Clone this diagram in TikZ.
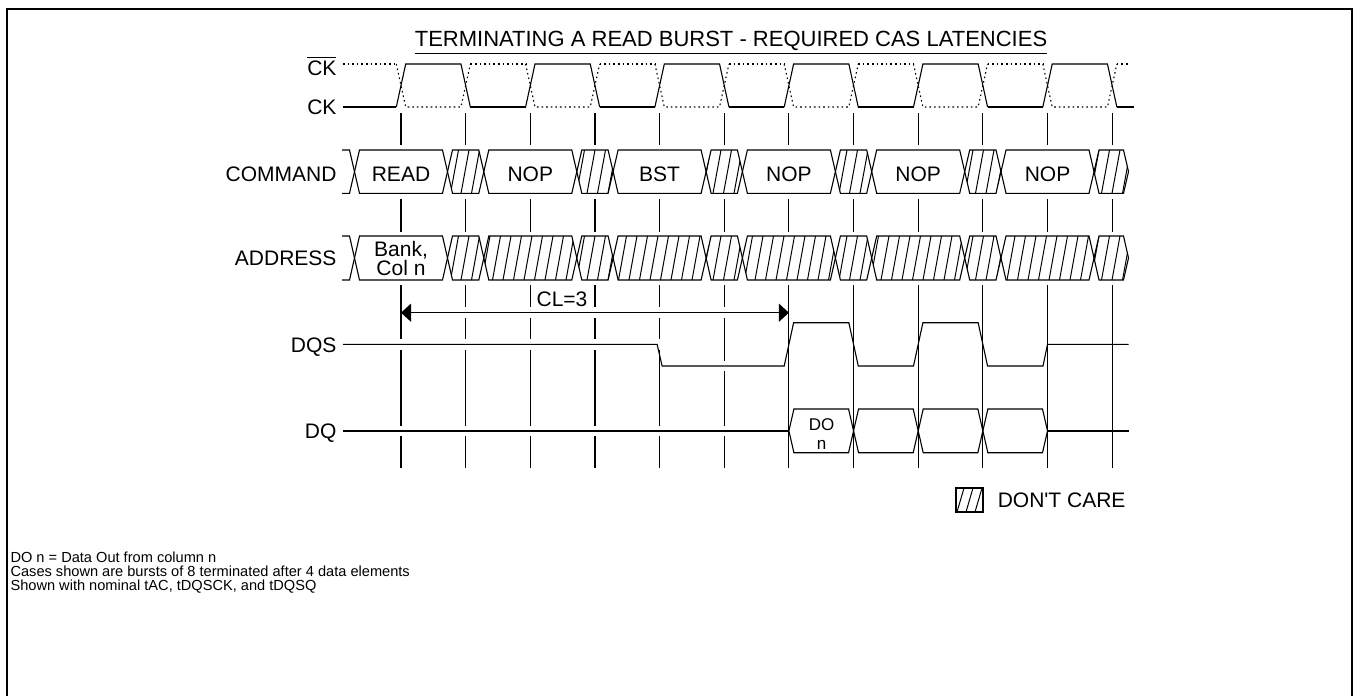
\documentclass[tikz,border=0pt]{standalone}
\usepackage{fontspec}
\setmainfont{Liberation Sans}
\usetikzlibrary{arrows.meta}

\begin{document}
\begin{tikzpicture}[
  x=0.5pt, y=-0.5pt, line width=0.55pt,
  sig/.style={line width=0.55pt},
  tick/.style={line width=0.55pt},
  hatch/.style={line width=0.5pt},
  ckbar/.style={line width=0.55pt, dash pattern=on 0.8pt off 1.5pt},
  lbl/.style={anchor=base east, inner sep=0pt, font=\fontsize{10.5}{12}\selectfont},
  busl/.style={anchor=base, inner sep=0pt, font=\fontsize{10.5}{12}\selectfont},
  twoline/.style={inner sep=0pt, align=center, font=\fontsize{10.5}{9.2}\selectfont},
  note/.style={anchor=north west, inner sep=0pt, align=left, font=\fontsize{7.3}{7}\selectfont},
  hex/.style n args={4}{insert path={({#1+5},#3) -- ({#2-5},#3) -- (#2,{(#3+#4)/2}) -- ({#2-5},#4) -- ({#1+5},#4) -- (#1,{(#3+#4)/2}) -- cycle}},
]
\useasboundingbox (0,0) rectangle (1355,696);
\def\xa{401}
\def\hp{64.65}
\def\ee{4.7}

% frame
\draw[line width=1pt] (6.7,700) -- (6.7,9.3) -- (1351.7,9.3) -- (1351.7,700);

% title
\node[anchor=base, inner sep=0pt, font=\fontsize{11}{13}\selectfont] (title) at (731,46.5)
  {\underline{TERMINATING A READ BURST - REQUIRED CAS LATENCIES}};

% signal names
\node[lbl] (lckb) at (337,75) {$\overline{\mbox{CK}}$};
\node[lbl] (lck) at (337,114.7) {CK};
\node[lbl] (lcmd) at (337,181.3) {COMMAND};
\node[lbl] (laddr) at (337,265.7) {ADDRESS};
\node[lbl] (ldqs) at (337,352) {DQS};
\node[lbl] (ldq) at (337,438.7) {DQ};

% clock
\draw[sig] (343,107) -- ({\xa-\ee},107);
\foreach \k in {0,2,...,10}
  \draw[sig] ({\xa+\k*\hp-\ee},107) -- ({\xa+\k*\hp+\ee},64) -- ({\xa+(\k+1)*\hp-\ee},64) -- ({\xa+(\k+1)*\hp+\ee},107);
\foreach \k in {1,3,...,9}
  \draw[sig] ({\xa+\k*\hp+\ee},107) -- ({\xa+(\k+1)*\hp-\ee},107);
\draw[sig] ({\xa+11*\hp+\ee},107) -- (1134,107);
\draw[ckbar] (343,64) -- ({\xa-\ee},64);
\foreach \k in {0,2,...,10}
  \draw[ckbar] ({\xa+\k*\hp-\ee},64) -- ({\xa+\k*\hp+\ee},107) -- ({\xa+(\k+1)*\hp-\ee},107) -- ({\xa+(\k+1)*\hp+\ee},64);
\foreach \k in {1,3,...,9}
  \draw[ckbar] ({\xa+\k*\hp+\ee},64) -- ({\xa+(\k+1)*\hp-\ee},64);
\draw[ckbar] ({\xa+11*\hp+\ee},64) -- (1130,64);

% ticks
\foreach \k in {0,...,11} {
  \draw[tick] ({\xa+\k*\hp},113) -- ({\xa+\k*\hp},145) ({\xa+\k*\hp},199) -- ({\xa+\k*\hp},232);
}
\foreach \k in {6,...,11}
  \draw[tick] ({\xa+\k*\hp},285) -- ({\xa+\k*\hp},468);
\draw[tick] (\xa,285) -- (\xa,339) (\xa,350) -- (\xa,426) (\xa,436) -- (\xa,468);
\foreach \k in {1,...,4}
  \draw[tick] ({\xa+\k*\hp},285) -- ({\xa+\k*\hp},307) ({\xa+\k*\hp},318) -- ({\xa+\k*\hp},339)
    ({\xa+\k*\hp},350) -- ({\xa+\k*\hp},426) ({\xa+\k*\hp},436) -- ({\xa+\k*\hp},468);
\draw[tick] ({\xa+5*\hp},285) -- ({\xa+5*\hp},307) ({\xa+5*\hp},318) -- ({\xa+5*\hp},361)
  ({\xa+5*\hp},371) -- ({\xa+5*\hp},426) ({\xa+5*\hp},436) -- ({\xa+5*\hp},468);

% command bus
\draw[sig] (342,150) -- (349.5,150) -- (354.5,171.65) -- (349.5,193.3) -- (342,193.3);
\foreach \a/\b/\t [count=\i from 0] in {354.5/447.5/READ, 483.8/576.8/NOP, 613.1/706.1/BST,
    742.4/835.4/NOP, 871.7/964.7/NOP, 1001/1094/NOP} {
  \draw[sig, hex={\a}{\b}{150}{193.3}];
  \node[busl] (cmd\i) at ({(\a+\b)/2},181.3) {\t};
}
\foreach \a/\b in {447.5/483.8, 576.8/613.1, 706.1/742.4, 835.4/871.7, 964.7/1001, 1094/1128.5} {
  \begin{scope}
    \clip[hex={\a}{\b}{150}{193.3}];
    \foreach \h in {335,345.5,...,1140}
      \draw[hatch] (\h,193.3) -- ++(8,-43.3);
  \end{scope}
  \draw[sig, hex={\a}{\b}{150}{193.3}];
}

% address bus
\draw[sig] (342,236) -- (349.5,236) -- (354.5,258) -- (349.5,280) -- (342,280);
\draw[sig, hex={354.5}{447.5}{236}{280}];
\node[twoline] (addr0) at (401,258.3) {Bank,\\Col n};
\foreach \a/\b in {447.5/483.8, 483.8/576.8, 576.8/613.1, 613.1/706.1, 706.1/742.4, 742.4/835.4,
    835.4/871.7, 871.7/964.7, 964.7/1001, 1001/1094, 1094/1128.5} {
  \begin{scope}
    \clip[hex={\a}{\b}{236}{280}];
    \foreach \h in {335,345.5,...,1140}
      \draw[hatch] (\h,280) -- ++(8,-44);
  \end{scope}
  \draw[sig, hex={\a}{\b}{236}{280}];
}

% CAS latency
\coordinate (clL) at (\xa,312.7);
\coordinate (clR) at ({\xa+6*\hp},312.7);
\draw[sig, {Triangle[length=5pt,width=9pt]}-{Triangle[length=5pt,width=9pt]}] (clL) -- (clR);
\node[busl] (cl) at (562,306) {CL=3};

% DQS
\draw[sig] (343,344.3) -- (657.1,344.3) -- (662.1,366) -- (784.2,366) -- (793.6,322.7) -- (848.85,322.7)
  -- (858.25,366) -- (913.5,366) -- (922.9,322.7) -- (978.15,322.7) -- (987.55,366) -- (1043,366)
  -- (1047.5,344.3) -- (1128.5,344.3);

% DQ
\draw[sig] (343,431) -- (788.9,431);
\foreach \a/\b in {788.9/853.55, 853.55/918.2, 918.2/982.85, 982.85/1047.5}
  \draw[sig, hex={\a}{\b}{409}{452.7}];
\draw[sig] (1047.5,431) -- (1128.5,431);
\node[twoline, font=\fontsize{8.5}{9.5}\selectfont] (do) at (821.5,434) {DO\\n};

% legend
\begin{scope}
  \clip (956,488) rectangle (983,512);
  \foreach \h in {948,957,...,990}
    \draw[hatch] (\h,512) -- ++(7,-24);
\end{scope}
\draw[sig] (956,488) rectangle (983,512);
\node[busl, anchor=base east] (dc) at (1126,507.5) {DON\textquotesingle T CARE};

% notes
\node[note] (notes) at (10,551) {DO n = Data Out from column n\\
  Cases shown are bursts of 8 terminated after 4 data elements\\
  Shown with nominal tAC, tDQSCK, and tDQSQ};
\end{tikzpicture}
\end{document}
